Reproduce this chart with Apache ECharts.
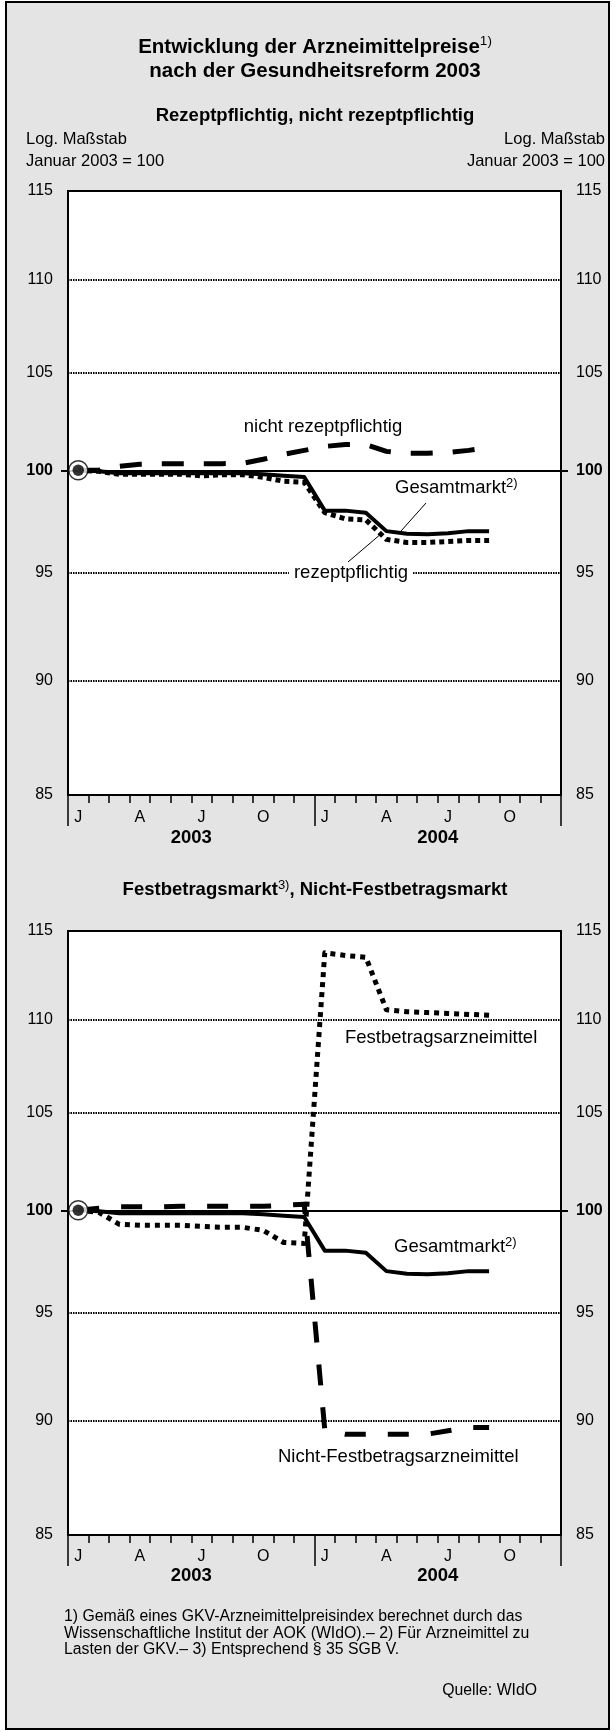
<!DOCTYPE html>
<html><head><meta charset="utf-8">
<script src="https://cdn.jsdelivr.net/npm/echarts@6/dist/echarts.min.js"></script>
<style>html,body{margin:0;padding:0;background:#fff}#c{width:616px;height:1732px}</style>
</head><body><div id="c"></div>
<script>
// ---- data ----
const months = ['J','F','M','A','M','J','J','A','S','O','N','D','J','F','M','A','M','J','J','A','S','O','N','D'];
const years = ['2003','2004'];
const yTicks = [85,90,95,100,105,110,115];
const gridTicks = [90,95,105,110];
const gesamtmarkt = [100,99.95,99.85,99.85,99.85,99.85,99.85,99.85,99.85,99.8,99.72,99.66,98.0,98.0,97.9,97.0,96.87,96.85,96.9,97.0,97.0];
const rezeptpflichtig = [100,99.95,99.8,99.8,99.8,99.8,99.72,99.78,99.78,99.65,99.45,99.4,97.9,97.6,97.55,96.6,96.45,96.45,96.5,96.55,96.55];
const nichtRezeptpflichtig = [100,100.0,100.2,100.3,100.33,100.33,100.33,100.33,100.35,100.55,100.8,101.0,101.2,101.3,101.3,100.95,100.85,100.85,100.9,101.0,101.15];
const festbetrag = [100,99.9,99.3,99.25,99.25,99.25,99.2,99.15,99.15,99.0,98.4,98.35,113.75,113.6,113.5,110.55,110.45,110.4,110.35,110.3,110.25];
const nichtFestbetrag = [100,100.1,100.17,100.17,100.17,100.2,100.2,100.2,100.2,100.2,100.25,100.3,89.6,89.4,89.4,89.4,89.4,89.4,89.55,89.7,89.7];

// ---- helpers ----
const FONT = '"Liberation Sans", Arial, Helvetica, sans-serif';
const L = v => Math.log(v);
const YMIN = L(85), YMAX = L(115);
const TICKFS = 16;

function monthAxis(gi, margin) {
  return { gridIndex: gi, type: 'category', data: months, boundaryGap: true, position: 'bottom',
    axisLine: { show: false },
    axisTick: { show: true, interval: 0, length: 8, lineStyle: { color: '#000', width: 1.5 } },
    axisLabel: { interval: 2, margin: margin, color: '#000', fontSize: TICKFS, fontFamily: FONT },
    splitLine: { show: false } };
}
function yearAxis(gi, margin) {
  return { gridIndex: gi, type: 'category', data: years, boundaryGap: true, position: 'bottom',
    axisLine: { show: false },
    axisTick: { show: true, interval: 0, length: 31, lineStyle: { color: '#000', width: 1.5 } },
    axisLabel: { margin: margin, color: '#000', fontSize: 18.5, fontWeight: 'bold', fontFamily: FONT },
    splitLine: { show: false } };
}
function labelFmt(v) {
  const n = Math.round(Math.exp(v));
  return n === 100 ? '{b|100}' : String(n);
}
function sideAxis(gi, pos, split) {
  return { gridIndex: gi, type: 'value', position: pos, min: YMIN, max: YMAX,
    axisLine: { show: false },
    axisTick: { show: true, customValues: [L(100)], length: 7, lineStyle: { color: '#000', width: 2 } },
    axisLabel: { show: true, customValues: yTicks.map(L), formatter: labelFmt, margin: 15,
      color: '#000', fontSize: TICKFS, fontFamily: FONT,
      rich: { b: { fontWeight: 'bold', fontSize: TICKFS, fontFamily: FONT, color: '#000' } } },
    splitLine: { show: split, customValues: [L(100)], lineStyle: { color: '#000', width: 2, type: 'solid' } } };
}
function gridAxis(gi) {
  return { gridIndex: gi, type: 'value', position: 'left', min: YMIN, max: YMAX,
    axisLine: { show: false }, axisLabel: { show: false },
    axisTick: { show: false, customValues: gridTicks.map(L) },
    splitLine: { show: true, customValues: gridTicks.map(L), lineStyle: { color: '#000', width: 1.8, type: [1.5, 1] } } };
}
function lineSeries(xi, yi, data, style) {
  return { type: 'line', xAxisIndex: xi, yAxisIndex: yi, data: data.map(L), symbol: 'none', showSymbol: false,
    silent: true, z: 3, lineStyle: Object.assign({ color: '#000', cap: 'butt', join: 'round' }, style) };
}
function markerSeries(xi, yi, v) {
  return [
    { type: 'scatter', xAxisIndex: xi, yAxisIndex: yi, data: [[0, L(v)]], symbol: 'circle', symbolSize: 19, silent: true, z: 6,
      itemStyle: { color: '#fff', borderColor: '#000', borderWidth: 1.5 } },
    { type: 'scatter', xAxisIndex: xi, yAxisIndex: yi, data: [[0, L(v)]], symbol: 'circle', symbolSize: 11.5, silent: true, z: 7,
      itemStyle: { color: '#000' } }
  ];
}
function text(x, y, str, o) {
  o = o || {};
  return { type: 'text', x: x, y: y, z: 20, silent: true,
    style: Object.assign({ text: str, fill: '#000', fontSize: 16, fontFamily: FONT,
      align: o.align || 'left', textAlign: o.align || 'left', verticalAlign: o.va || 'middle', textVerticalAlign: o.va || 'middle' }, o.style || {}) };
}
function supRich(size, weight, supSize) {
  return { t: { fontSize: size, fontWeight: weight, fontFamily: FONT, color: '#000', lineHeight: size + 4 },
           s: { fontSize: supSize, fontFamily: FONT, color: '#000', verticalAlign: 'top', lineHeight: 10 } };
}

const GTOP = { left: 68, top: 191, width: 493, height: 604 };
const GBOT = { left: 68, top: 931, width: 493, height: 604 };

const option = {
  animation: false,
  grid: [
    Object.assign({ show: true, backgroundColor: '#fff', borderColor: '#000', borderWidth: 2 }, GTOP),
    Object.assign({ show: false }, GTOP),
    Object.assign({ show: true, backgroundColor: '#fff', borderColor: '#000', borderWidth: 2 }, GBOT),
    Object.assign({ show: false }, GBOT)
  ],
  xAxis: [ monthAxis(0, 15), yearAxis(1, 33), monthAxis(2, 14), yearAxis(3, 31) ],
  yAxis: [ sideAxis(0, 'left', true), sideAxis(0, 'right', false), gridAxis(1),
           sideAxis(2, 'left', true), sideAxis(2, 'right', false), gridAxis(3) ],
  series: [
    lineSeries(0, 0, nichtRezeptpflichtig, { width: 5, type: [22, 20] }),
    lineSeries(0, 0, rezeptpflichtig, { width: 5, type: [5, 4] }),
    lineSeries(0, 0, gesamtmarkt, { width: 4, type: 'solid' }),
    ...markerSeries(0, 0, gesamtmarkt[0]),
    lineSeries(2, 3, festbetrag, { width: 5, type: [5, 5] }),
    lineSeries(2, 3, nichtFestbetrag, { width: 5, type: [21, 22] }),
    lineSeries(2, 3, gesamtmarkt, { width: 4, type: 'solid' }),
    ...markerSeries(2, 3, gesamtmarkt[0])
  ],
  graphic: { elements: [
    { type: 'rect', z: -10, silent: true, shape: { x: 6, y: 2, width: 603, height: 1727 },
      style: { fill: '#e4e4e4', stroke: '#000', lineWidth: 2 } },
    text(315, 47, '{t|Entwicklung der Arzneimittelpreise}{s|1)}', { align: 'center', style: { rich: supRich(20.5, 'bold', 13.5) } }),
    text(315, 71, 'nach der Gesundheitsreform 2003', { align: 'center', style: { fontSize: 20.5, fontWeight: 'bold' } }),
    text(315, 116, 'Rezeptpflichtig, nicht rezeptpflichtig', { align: 'center', style: { fontSize: 18.5, fontWeight: 'bold' } }),
    text(26, 139, 'Log. Maßstab', { style: { fontSize: 16.5 } }),
    text(26, 161, 'Januar 2003 = 100', { style: { fontSize: 16.5 } }),
    text(605, 139, 'Log. Maßstab', { align: 'right', style: { fontSize: 16.5 } }),
    text(605, 161, 'Januar 2003 = 100', { align: 'right', style: { fontSize: 16.5 } }),
    // top annotations
    text(323, 427, 'nicht rezeptpflichtig', { align: 'center', style: { fontSize: 18.5 } }),
    text(395, 488, '{t|Gesamtmarkt}{s|2)}', { style: { rich: supRich(18.5, 'normal', 13) } }),
    text(351, 573, 'rezeptpflichtig', { align: 'center', style: { fontSize: 18.5, backgroundColor: '#fff', padding: [2, 5] } }),
    { type: 'line', z: 20, silent: true, shape: { x1: 426, y1: 503, x2: 401, y2: 531 }, style: { stroke: '#000', lineWidth: 1 } },
    { type: 'line', z: 20, silent: true, shape: { x1: 382, y1: 533, x2: 348, y2: 562 }, style: { stroke: '#000', lineWidth: 1 } },
    // second panel
    text(315, 890, '{t|Festbetragsmarkt}{s|3)}{t|, Nicht-Festbetragsmarkt}', { align: 'center', style: { rich: supRich(18.5, 'bold', 13) } }),
    text(345, 1038, 'Festbetragsarzneimittel', { style: { fontSize: 18.5 } }),
    text(394, 1247, '{t|Gesamtmarkt}{s|2)}', { style: { rich: supRich(18.5, 'normal', 13) } }),
    text(278, 1457, 'Nicht-Festbetragsarzneimittel', { style: { fontSize: 18.5 } }),
    // footnotes
    text(64, 1609, '1) Gemäß eines GKV-Arzneimittelpreisindex berechnet durch das\nWissenschaftliche Institut der AOK (WIdO).– 2) Für Arzneimittel zu\nLasten der GKV.– 3) Entsprechend § 35 SGB V.', { va: 'top', style: { fontSize: 15.8, lineHeight: 16.2 } }),
    text(537, 1691, 'Quelle: WIdO', { align: 'right', style: { fontSize: 15.8 } })
  ] }
};

const chart = echarts.init(document.getElementById('c'), null, { renderer: 'canvas', width: 616, height: 1732 });
chart.setOption(option);
</script>
</body></html>
